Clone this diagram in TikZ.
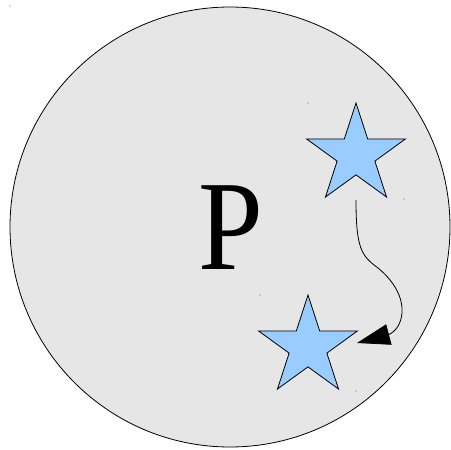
\documentclass[tikz,border=0pt]{standalone}
\usepackage{fontspec}
\setmainfont{Liberation Serif}
\usetikzlibrary{shapes.geometric,arrows.meta,calc}
\definecolor{disk}{HTML}{E6E6E6}
\definecolor{starblue}{HTML}{99CCFF}
\tikzset{
 starnode/.style={star, star points=5, star point ratio=2.618, minimum size=104pt, inner sep=0pt, draw=black, fill=starblue, line width=0.8pt},
 speck/.style={fill=black!60, inner sep=0pt, minimum size=1.3pt, circle},
 link/.style={line width=0.8pt, -{Triangle[length=33pt,width=21pt]}}
}
\begin{document}
\begin{tikzpicture}[x=1pt,y=-1pt]
\useasboundingbox (0,0) rectangle (451,450);
\fill[white] (0,0) rectangle (451,450);
\node[circle, draw, fill=disk, minimum size=440pt, inner sep=0pt, line width=0.8pt] (disk) at (230,227) {};
\node[anchor=base west, inner sep=0pt, font=\fontsize{128}{128}\selectfont] (label) at (198,269) {\scalebox{0.91}[1]{P}};
\node[starnode] (s1) at (356,155) {};
\node[starnode] (s2) at (308,347) {};
\coordinate (a0) at ($(s1.center)+(0,45)$);
\coordinate (a1) at ($(s2.center)+(49,-4)$);
\draw[link] (a0) .. controls (356,250) and (362,256) .. (378,268) .. controls (395,282) and (403,298) .. (402,313) .. controls (401,324) and (396,331) .. (389,334.5) -- (a1);
\node[speck] (d1) at (10,6) {};
\node[speck] (d2) at (308,103) {};
\node[speck] (d3) at (404,199) {};
\node[speck] (d4) at (260,295) {};
\node[speck] (d5) at (356,391) {};
\end{tikzpicture}
\end{document}
